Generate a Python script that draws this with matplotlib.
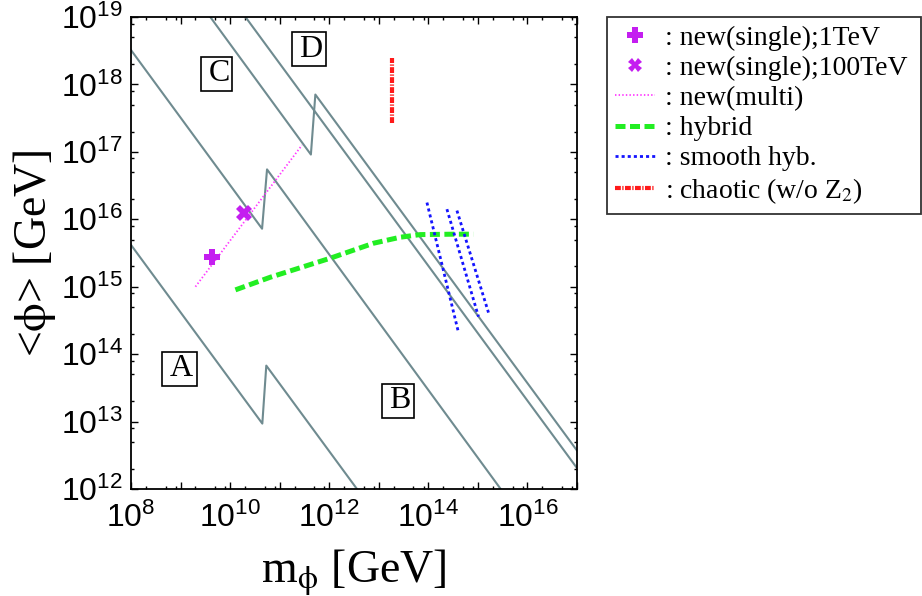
import numpy as np
import matplotlib
matplotlib.use('Agg')
import matplotlib.pyplot as plt
from matplotlib.lines import Line2D
from matplotlib.ticker import FixedLocator, FuncFormatter

plt.rcParams['font.family'] = ['Liberation Sans Narrow', 'Liberation Sans']

# log10 of m_phi [GeV] and <phi> [GeV]
bound_A_m = [8.0, 10.65, 10.73, 12.56]
bound_A_v = [15.62, 12.97, 13.83, 12.0]
bound_B_m = [8.0, 10.645, 10.745, 15.46]
bound_B_v = [18.51, 15.86, 16.74, 12.0]
bound_C_m = [9.60, 11.63, 11.72, 17.0]
bound_C_v = [19.0, 16.96, 17.85, 12.57]
bound_D_m = [10.31, 17.0]
bound_D_v = [19.0, 12.31]

multi_m = [9.30, 11.45]
multi_v = [15.0, 17.10]
single_1tev = (9.637, 15.44)
single_100tev = (10.288, 16.09)

hybrid_m = [10.107, 10.812, 12.022, 12.895, 13.433, 13.837, 14.508, 14.911]
hybrid_v = [14.953, 15.141, 15.423, 15.645, 15.734, 15.773, 15.779, 15.779]

smooth_m = [[13.972, 14.609], [14.375, 15.012], [14.577, 15.214]]
smooth_v = [[16.248, 14.319], [16.15, 14.556], [16.129, 14.616]]

chaotic_m = [13.266, 13.266]
chaotic_v = [17.435, 18.39]

region_labels = ['A', 'B', 'C', 'D']
region_m = [8.978, 13.379, 9.724, 11.585]
region_v = [13.78, 13.31, 18.157, 18.524]

grey = '#6f8b90'
purple = '#c41ef0'
pink = '#ff3cff'
green = '#22ee22'
blue = '#1414ff'
red = '#ff1a1a'
serif = 'Liberation Serif'

fig = plt.figure(figsize=(9.22, 5.96), dpi=100)
ax = fig.add_axes([131/922, 1-489/596, 446/922, 472/596])

def p(m, v):
    return 10**np.array(m), 10**np.array(v)

for bm, bv in [(bound_A_m, bound_A_v), (bound_B_m, bound_B_v),
               (bound_C_m, bound_C_v), (bound_D_m, bound_D_v)]:
    ax.plot(*p(bm, bv), color=grey, lw=1.5)

ax.plot(*p(multi_m, multi_v), color=pink, lw=1.3, dashes=(0.8, 1.2))
ax.plot(*p(hybrid_m, hybrid_v), color=green, lw=3.6, dashes=(2.0, 0.9))
for sm, sv in zip(smooth_m, smooth_v):
    ax.plot(*p(sm, sv), color=blue, lw=2.0, dashes=(1.1, 1.1))
ax.plot(*p(chaotic_m, chaotic_v), color=red, lw=3.0, dashes=(1.4, 0.35, 0.3, 0.35))
ax.plot(*p([single_1tev[0]], [single_1tev[1]]), marker='P', ms=12, color=purple, ls='none', mew=0)
ax.plot(*p([single_100tev[0]], [single_100tev[1]]), marker='X', ms=12, color=purple, ls='none', mew=0)

for lab, lm, lv in zip(region_labels, region_m, region_v):
    ax.text(10**lm, 10**lv, r'$\:$' + lab + r'$\:$', family=serif, math_fontfamily='stix',
            fontsize=23, ha='center', va='center',
            bbox=dict(boxstyle='square,pad=0.08', fc='white', ec='black', lw=1.2))

ax.set_xscale('log')
ax.set_yscale('log')
ax.set_xlim(1e8, 1e17)
ax.set_ylim(1e12, 1e19)

xmaj = [10.0**k for k in range(8, 18)]
ymaj = [10.0**k for k in range(12, 20)]
ax.xaxis.set_major_locator(FixedLocator(xmaj))
ax.yaxis.set_major_locator(FixedLocator(ymaj))
ax.xaxis.set_minor_locator(FixedLocator([c * 10.0**k for k in range(8, 17) for c in (2, 5, 8)]))
ax.yaxis.set_minor_locator(FixedLocator([c * 10.0**k for k in range(12, 19) for c in (2, 5, 8)]))
ax.xaxis.set_major_formatter(FuncFormatter(
    lambda v, pos: r'$\mathregular{10^{%d}}$' % round(np.log10(v)) if round(np.log10(v)) % 2 == 0 else ''))
ax.yaxis.set_major_formatter(FuncFormatter(
    lambda v, pos: r'$\mathregular{10^{%d}}$' % round(np.log10(v))))

ax.tick_params(which='both', direction='in', top=True, right=True, width=1.0, labelsize=23, pad=6)
ax.tick_params(axis='x', which='major', pad=10)
ax.tick_params(which='major', length=5)
ax.tick_params(which='minor', length=2.3)
for s in ax.spines.values():
    s.set_linewidth(1.3)

ax.set_xlabel(r'm$_{\mathrm{\phi}}$ [GeV]', family=serif, math_fontfamily='stix', fontsize=33, labelpad=9)
ax.set_ylabel(r'<$\mathrm{\phi}$> [GeV]', family=serif, math_fontfamily='stix', fontsize=33, labelpad=2)

handles = [
    Line2D([], [], marker='P', ms=12, color=purple, ls='none', mew=0),
    Line2D([], [], marker='X', ms=10, color=purple, ls='none', mew=0),
    Line2D([], [], color=pink, lw=1.3, dashes=(0.8, 1.2)),
    Line2D([], [], color=green, lw=3.6, dashes=(2.0, 0.9)),
    Line2D([], [], color=blue, lw=2.0, dashes=(1.1, 1.1)),
    Line2D([], [], color=red, lw=3.0, dashes=(1.4, 0.35, 0.3, 0.35)),
]
labels = [': new(single);1TeV', ': new(single);100TeV', ': new(multi)', ': hybrid',
          ': smooth hyb.', r': chaotic (w/o Z$_2$)']
leg = fig.legend(handles, labels, loc='upper left',
                 bbox_to_anchor=(607/922, 1-17/596, 314/922, 0), mode='expand',
                 prop=dict(family=serif, size=20, math_fontfamily='stix'),
                 handlelength=1.44, handletextpad=0.36, labelspacing=0.17,
                 borderpad=0.3, borderaxespad=0, fancybox=False, frameon=True)
leg.get_frame().set_edgecolor('black')
leg.get_frame().set_linewidth(1.3)

fig.savefig('out.png', dpi=100)
